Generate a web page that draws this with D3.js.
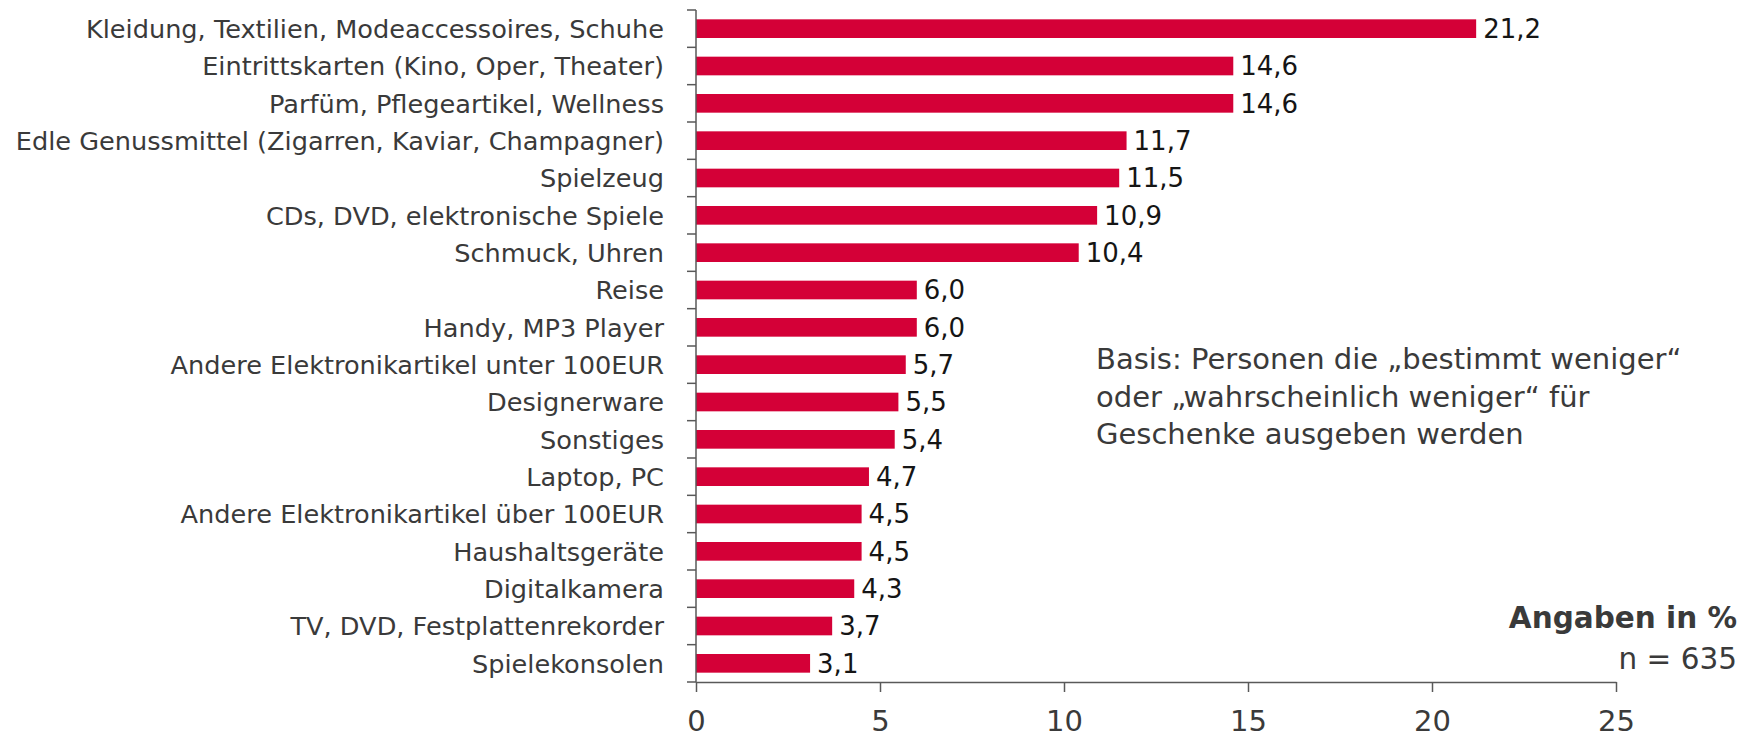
<!DOCTYPE html>
<html>
<head>
<meta charset="utf-8">
<script src="https://cdn.jsdelivr.net/npm/d3@7"></script>
<style>
  body { margin: 0; background: #fff; }
  svg { display: block; }
  text { font-family: "DejaVu Sans", Verdana, sans-serif; }
</style>
</head>
<body>
<svg id="chart" width="1749" height="738"></svg>
<script>
const categories = [
    "Kleidung, Textilien, Modeaccessoires, Schuhe",
    "Eintrittskarten (Kino, Oper, Theater)",
    "Parfüm, Pflegeartikel, Wellness",
    "Edle Genussmittel (Zigarren, Kaviar, Champagner)",
    "Spielzeug",
    "CDs, DVD, elektronische Spiele",
    "Schmuck, Uhren",
    "Reise",
    "Handy, MP3 Player",
    "Andere Elektronikartikel unter 100EUR",
    "Designerware",
    "Sonstiges",
    "Laptop, PC",
    "Andere Elektronikartikel über 100EUR",
    "Haushaltsgeräte",
    "Digitalkamera",
    "TV, DVD, Festplattenrekorder",
    "Spielekonsolen"
];
const values = [21.2, 14.6, 14.6, 11.7, 11.5, 10.9, 10.4, 6.0, 6.0, 5.7, 5.5, 5.4, 4.7, 4.5, 4.5, 4.3, 3.7, 3.1];
const xTicks = [0, 5, 10, 15, 20, 25];
const noteLines = [
    "Basis: Personen die „bestimmt weniger“",
    "oder „wahrscheinlich weniger“ für",
    "Geschenke ausgeben werden"
];

const data = categories.map((c, i) => ({ label: c, value: values[i] }));

const barColor = "#d40037";
const axisColor = "#595959";
const textColor = "#3a3a3a";

const svg = d3.select("#chart");
const plot = { left: 696, right: 1616, top: 10, bottom: 682 };

const xScale = d3.scaleLinear().domain([0, 25]).range([plot.left, plot.right]);
const yScale = d3.scaleBand()
    .domain(categories)
    .range([plot.top, plot.bottom])
    .paddingInner(0.5)
    .paddingOuter(0.25);
const step = yScale.step();

// bars
svg.append("g")
    .selectAll("rect")
    .data(data)
    .join("rect")
    .attr("x", xScale(0))
    .attr("y", d => yScale(d.label))
    .attr("width", d => xScale(d.value) - xScale(0))
    .attr("height", yScale.bandwidth())
    .attr("fill", barColor);

// value labels
svg.append("g")
    .selectAll("text")
    .data(data)
    .join("text")
    .attr("x", d => xScale(d.value) + 7)
    .attr("y", d => yScale(d.label) + yScale.bandwidth() / 2)
    .attr("dy", "0.36em")
    .attr("font-size", 26)
    .attr("fill", "#151515")
    .text(d => d3.format(".1f")(d.value).replace(".", ","));

// category labels
svg.append("g")
    .selectAll("text")
    .data(data)
    .join("text")
    .attr("x", plot.left - 32)
    .attr("y", d => yScale(d.label) + yScale.bandwidth() / 2)
    .attr("dy", "0.36em")
    .attr("text-anchor", "end")
    .attr("font-size", 25.6)
    .attr("fill", textColor)
    .text(d => d.label);

// y axis line + ticks between categories
const boundaries = d3.range(categories.length + 1).map(i => plot.top + i * step);
const yAxis = svg.append("g").attr("stroke", axisColor).attr("stroke-width", 1.5);
yAxis.append("line")
    .attr("x1", plot.left).attr("x2", plot.left)
    .attr("y1", plot.top).attr("y2", plot.bottom);
yAxis.selectAll(".ytick")
    .data(boundaries)
    .join("line")
    .attr("class", "ytick")
    .attr("x1", plot.left - 9).attr("x2", plot.left)
    .attr("y1", d => d).attr("y2", d => d);

// x axis
const xAxis = svg.append("g")
    .attr("transform", `translate(0,${plot.bottom})`)
    .call(d3.axisBottom(xScale).tickValues(xTicks).tickSize(10).tickPadding(18).tickSizeOuter(0));
xAxis.select(".domain").attr("stroke", axisColor).attr("stroke-width", 1.5);
xAxis.selectAll(".tick line").attr("stroke", axisColor).attr("stroke-width", 1.5);
xAxis.selectAll(".tick text")
    .attr("font-size", 29)
    .attr("font-family", "DejaVu Sans, Verdana, sans-serif")
    .attr("fill", textColor);

// note
svg.append("g")
    .selectAll("text")
    .data(noteLines)
    .join("text")
    .attr("x", 1096)
    .attr("y", (d, i) => 359 + i * 37.5)
    .attr("dy", "0.36em")
    .attr("font-size", 29)
    .attr("fill", textColor)
    .text(d => d);

svg.append("text")
    .attr("x", 1737).attr("y", 617).attr("dy", "0.36em")
    .attr("text-anchor", "end")
    .attr("font-size", 29.5).attr("font-weight", "bold")
    .attr("fill", textColor)
    .text("Angaben in %");

svg.append("text")
    .attr("x", 1737).attr("y", 658).attr("dy", "0.36em")
    .attr("text-anchor", "end")
    .attr("font-size", 29.5)
    .attr("fill", textColor)
    .text("n = 635");
</script>
</body>
</html>
